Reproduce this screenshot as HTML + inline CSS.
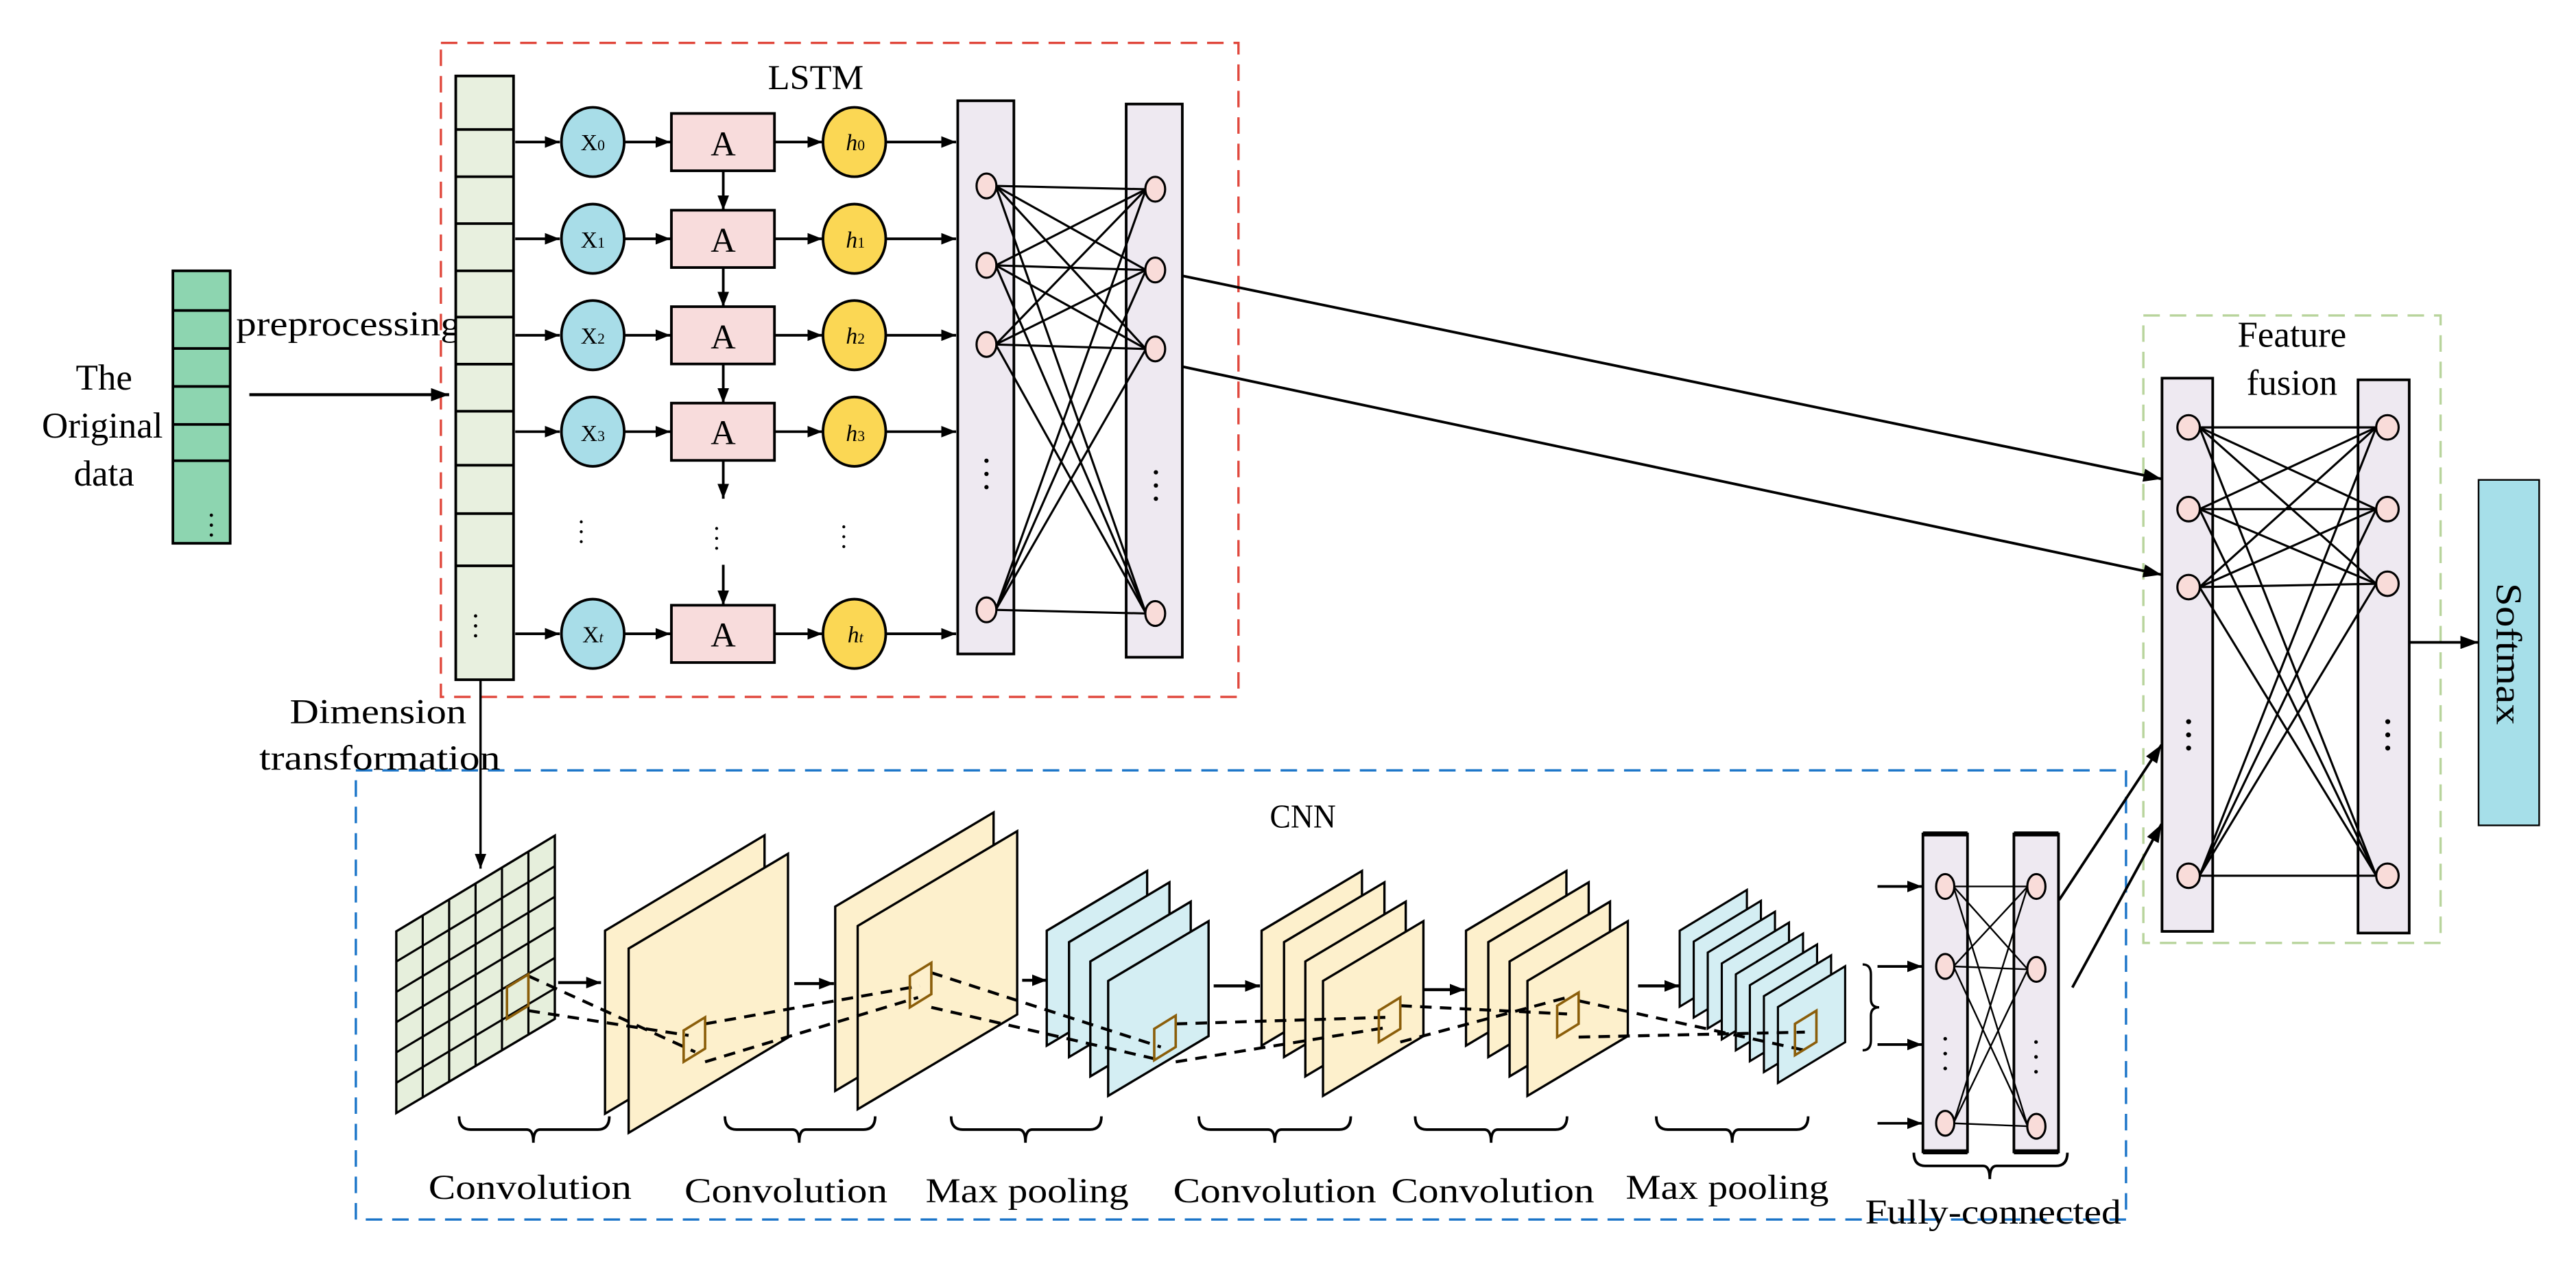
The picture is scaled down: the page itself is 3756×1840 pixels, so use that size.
<!DOCTYPE html>
<html><head><meta charset="utf-8"><style>html,body{margin:0;padding:0;background:#fff}svg{display:block}</style></head>
<body>
<svg width="3756" height="1840" viewBox="0 0 1560 764.2" preserveAspectRatio="none" xmlns="http://www.w3.org/2000/svg" font-family="'Liberation Serif', serif">
<defs>
<marker id="ar" markerUnits="userSpaceOnUse" markerWidth="12" markerHeight="8" refX="11" refY="4" orient="auto"><path d="M0,0 L11,4 L0,8 z" fill="#000"/></marker>
<marker id="ars" markerUnits="userSpaceOnUse" markerWidth="9" markerHeight="7" refX="9" refY="3.5" orient="auto"><path d="M0,0 L9,3.5 L0,7 z" fill="#000"/></marker>
</defs>

<!-- Boxes -->
<rect x="267" y="26" width="483" height="396" fill="none" stroke="#e0473c" stroke-width="1.4" stroke-dasharray="10 6"/>
<rect x="215.5" y="466.5" width="1072" height="272" fill="none" stroke="#1a74c8" stroke-width="1.4" stroke-dasharray="10 6"/>
<rect x="1298" y="191" width="180" height="380" fill="none" stroke="#b8d49c" stroke-width="1.4" stroke-dasharray="10 6"/>

<!-- Original data -->
<rect x="104.7" y="164" width="34.7" height="165" fill="#8dd5b0" stroke="#000" stroke-width="1.6"/>
<g stroke="#000" stroke-width="1.6">
<line x1="104.7" y1="188" x2="139.4" y2="188"/><line x1="104.7" y1="211" x2="139.4" y2="211"/><line x1="104.7" y1="234" x2="139.4" y2="234"/><line x1="104.7" y1="257" x2="139.4" y2="257"/><line x1="104.7" y1="279" x2="139.4" y2="279"/>
</g>
<g fill="#000"><circle cx="128" cy="312" r="1"/><circle cx="128" cy="318" r="1"/><circle cx="128" cy="324" r="1"/></g>
<g font-size="22" text-anchor="middle"><text x="63" y="236">The</text><text x="62" y="265">Original</text><text x="63" y="294">data</text></g>
<text x="143" y="203" font-size="21" textLength="136" lengthAdjust="spacingAndGlyphs">preprocessing</text>
<line x1="151" y1="239" x2="272" y2="239" stroke="#000" stroke-width="1.8" marker-end="url(#ar)"/>

<!-- LSTM input column -->
<rect x="276" y="46" width="35" height="365.6" fill="#e8f0df" stroke="#000" stroke-width="1.6"/>
<g stroke="#000" stroke-width="1.6">
<line x1="276" y1="78.4" x2="311" y2="78.4"/><line x1="276" y1="107" x2="311" y2="107"/><line x1="276" y1="135.4" x2="311" y2="135.4"/><line x1="276" y1="164" x2="311" y2="164"/><line x1="276" y1="192" x2="311" y2="192"/><line x1="276" y1="220.5" x2="311" y2="220.5"/><line x1="276" y1="249" x2="311" y2="249"/><line x1="276" y1="281.7" x2="311" y2="281.7"/><line x1="276" y1="311" x2="311" y2="311"/><line x1="276" y1="342.6" x2="311" y2="342.6"/>
</g>
<g fill="#000"><circle cx="288" cy="373" r="1"/><circle cx="288" cy="379" r="1"/><circle cx="288" cy="385" r="1"/></g>
<text x="494" y="54" font-size="21" text-anchor="middle" textLength="58" lengthAdjust="spacingAndGlyphs">LSTM</text>

<!-- LSTM rows -->
<g stroke="#000" stroke-width="1.6">
<line x1="312" y1="86" x2="339" y2="86" marker-end="url(#ars)"/><line x1="378" y1="86" x2="406" y2="86" marker-end="url(#ars)"/><line x1="469" y1="86" x2="498" y2="86" marker-end="url(#ars)"/><line x1="536" y1="86" x2="579" y2="86" marker-end="url(#ars)"/>
<line x1="312" y1="144.6" x2="339" y2="144.6" marker-end="url(#ars)"/><line x1="378" y1="144.6" x2="406" y2="144.6" marker-end="url(#ars)"/><line x1="469" y1="144.6" x2="498" y2="144.6" marker-end="url(#ars)"/><line x1="536" y1="144.6" x2="579" y2="144.6" marker-end="url(#ars)"/>
<line x1="312" y1="203" x2="339" y2="203" marker-end="url(#ars)"/><line x1="378" y1="203" x2="406" y2="203" marker-end="url(#ars)"/><line x1="469" y1="203" x2="498" y2="203" marker-end="url(#ars)"/><line x1="536" y1="203" x2="579" y2="203" marker-end="url(#ars)"/>
<line x1="312" y1="261.4" x2="339" y2="261.4" marker-end="url(#ars)"/><line x1="378" y1="261.4" x2="406" y2="261.4" marker-end="url(#ars)"/><line x1="469" y1="261.4" x2="498" y2="261.4" marker-end="url(#ars)"/><line x1="536" y1="261.4" x2="579" y2="261.4" marker-end="url(#ars)"/>
<line x1="312" y1="383.8" x2="339" y2="383.8" marker-end="url(#ars)"/><line x1="378" y1="383.8" x2="406" y2="383.8" marker-end="url(#ars)"/><line x1="469" y1="383.8" x2="498" y2="383.8" marker-end="url(#ars)"/><line x1="536" y1="383.8" x2="579" y2="383.8" marker-end="url(#ars)"/>
<line x1="438" y1="103.4" x2="438" y2="127.3" marker-end="url(#ars)"/>
<line x1="438" y1="162" x2="438" y2="185.7" marker-end="url(#ars)"/>
<line x1="438" y1="220.3" x2="438" y2="244.1" marker-end="url(#ars)"/>
<line x1="438" y1="278.7" x2="438" y2="302" marker-end="url(#ars)"/>
<line x1="438" y1="342" x2="438" y2="366.5" marker-end="url(#ars)"/>
</g>
<g stroke="#000" stroke-width="1.6">
<ellipse cx="359" cy="86" rx="19" ry="21" fill="#a8dde8"/><ellipse cx="359" cy="144.6" rx="19" ry="21" fill="#a8dde8"/><ellipse cx="359" cy="203" rx="19" ry="21" fill="#a8dde8"/><ellipse cx="359" cy="261.4" rx="19" ry="21" fill="#a8dde8"/><ellipse cx="359" cy="383.8" rx="19" ry="21" fill="#a8dde8"/>
<rect x="406.6" y="68.7" width="62.4" height="34.7" fill="#f8dcdc"/><rect x="406.6" y="127.3" width="62.4" height="34.7" fill="#f8dcdc"/><rect x="406.6" y="185.7" width="62.4" height="34.7" fill="#f8dcdc"/><rect x="406.6" y="244.1" width="62.4" height="34.7" fill="#f8dcdc"/><rect x="406.6" y="366.5" width="62.4" height="34.7" fill="#f8dcdc"/>
<ellipse cx="517.4" cy="86" rx="19" ry="21" fill="#fbd754"/><ellipse cx="517.4" cy="144.6" rx="19" ry="21" fill="#fbd754"/><ellipse cx="517.4" cy="203" rx="19" ry="21" fill="#fbd754"/><ellipse cx="517.4" cy="261.4" rx="19" ry="21" fill="#fbd754"/><ellipse cx="517.4" cy="383.8" rx="19" ry="21" fill="#fbd754"/>
</g>
<g font-size="14" text-anchor="middle">
<text x="359" y="91">X<tspan font-size="9">0</tspan></text><text x="359" y="150">X<tspan font-size="9">1</tspan></text><text x="359" y="208">X<tspan font-size="9">2</tspan></text><text x="359" y="267">X<tspan font-size="9">3</tspan></text><text x="359" y="389">X<tspan font-size="9" font-style="italic">t</tspan></text>
<text x="518" y="91" font-style="italic">h<tspan font-size="9" font-style="normal">0</tspan></text><text x="518" y="150" font-style="italic">h<tspan font-size="9" font-style="normal">1</tspan></text><text x="518" y="208" font-style="italic">h<tspan font-size="9" font-style="normal">2</tspan></text><text x="518" y="267" font-style="italic">h<tspan font-size="9" font-style="normal">3</tspan></text><text x="518" y="389" font-style="italic">h<tspan font-size="9">t</tspan></text>
</g>
<g font-size="21" text-anchor="middle"><text x="438" y="94">A</text><text x="438" y="152.5">A</text><text x="438" y="211">A</text><text x="438" y="269">A</text><text x="438" y="391.5">A</text></g>
<g fill="#000"><circle cx="352" cy="316" r="0.9"/><circle cx="352" cy="322" r="0.9"/><circle cx="352" cy="328" r="0.9"/>
<circle cx="434" cy="320" r="0.9"/><circle cx="434" cy="326" r="0.9"/><circle cx="434" cy="332" r="0.9"/>
<circle cx="511" cy="319" r="0.9"/><circle cx="511" cy="325" r="0.9"/><circle cx="511" cy="331" r="0.9"/></g>

<!-- LSTM dense layers -->
<rect x="580" y="61" width="34" height="335" fill="#eee9f1" stroke="#000" stroke-width="1.6"/>
<rect x="682" y="63" width="34" height="335" fill="#eee9f1" stroke="#000" stroke-width="1.6"/>
<g stroke="#000" stroke-width="1.3">
<line x1="603" y1="112.6" x2="694" y2="114.6"/><line x1="603" y1="112.6" x2="694" y2="163.5"/><line x1="603" y1="112.6" x2="694" y2="211.3"/><line x1="603" y1="112.6" x2="694" y2="371.5"/>
<line x1="603" y1="160.7" x2="694" y2="114.6"/><line x1="603" y1="160.7" x2="694" y2="163.5"/><line x1="603" y1="160.7" x2="694" y2="211.3"/><line x1="603" y1="160.7" x2="694" y2="371.5"/>
<line x1="603" y1="208.6" x2="694" y2="114.6"/><line x1="603" y1="208.6" x2="694" y2="163.5"/><line x1="603" y1="208.6" x2="694" y2="211.3"/><line x1="603" y1="208.6" x2="694" y2="371.5"/>
<line x1="603" y1="369.3" x2="694" y2="114.6"/><line x1="603" y1="369.3" x2="694" y2="163.5"/><line x1="603" y1="369.3" x2="694" y2="211.3"/><line x1="603" y1="369.3" x2="694" y2="371.5"/>
</g>
<g fill="#f9dcd9" stroke="#000" stroke-width="1.3">
<ellipse cx="597.4" cy="112.6" rx="6" ry="7.5"/><ellipse cx="597.4" cy="160.7" rx="6" ry="7.5"/><ellipse cx="597.4" cy="208.6" rx="6" ry="7.5"/><ellipse cx="597.4" cy="369.3" rx="6" ry="7.5"/>
<ellipse cx="699.6" cy="114.6" rx="6" ry="7.5"/><ellipse cx="699.6" cy="163.5" rx="6" ry="7.5"/><ellipse cx="699.6" cy="211.3" rx="6" ry="7.5"/><ellipse cx="699.6" cy="371.5" rx="6" ry="7.5"/>
</g>
<g fill="#000"><circle cx="597.4" cy="279" r="1.3"/><circle cx="597.4" cy="287" r="1.3"/><circle cx="597.4" cy="295" r="1.3"/>
<circle cx="700" cy="286" r="1.3"/><circle cx="700" cy="294" r="1.3"/><circle cx="700" cy="302" r="1.3"/></g>

<!-- to fusion -->
<g stroke="#000" stroke-width="1.6">
<line x1="716" y1="167" x2="1309" y2="290" marker-end="url(#ar)"/>
<line x1="716" y1="222" x2="1309" y2="348" marker-end="url(#ar)"/>
<line x1="1247" y1="545" x2="1309" y2="451" marker-end="url(#ar)"/>
<line x1="1255" y1="598" x2="1309" y2="499" marker-end="url(#ar)"/>
</g>

<!-- Dimension -->
<g font-size="21" text-anchor="middle"><text x="229" y="438" textLength="107" lengthAdjust="spacingAndGlyphs">Dimension</text><text x="230" y="466" textLength="146" lengthAdjust="spacingAndGlyphs">transformation</text></g>
<line x1="291" y1="412" x2="291" y2="526" stroke="#000" stroke-width="1.4" marker-end="url(#ars)"/>
<text x="789" y="501" font-size="20" text-anchor="middle" textLength="40" lengthAdjust="spacingAndGlyphs">CNN</text>

<!-- Grid -->
<polygon points="240,564 336,506 336,617 240,674" fill="#e6efdc" stroke="#000" stroke-width="1.4"/>
<g stroke="#000" stroke-width="1.3">
<line x1="256" y1="554.3" x2="256" y2="664.7"/><line x1="272" y1="544.7" x2="272" y2="655"/><line x1="288" y1="535" x2="288" y2="645.4"/><line x1="304" y1="525.3" x2="304" y2="635.7"/><line x1="320" y1="515.7" x2="320" y2="626"/>
<line x1="240" y1="582.3" x2="336" y2="524.5"/><line x1="240" y1="600.7" x2="336" y2="543"/><line x1="240" y1="619" x2="336" y2="561.5"/><line x1="240" y1="637.3" x2="336" y2="580"/><line x1="240" y1="655.7" x2="336" y2="598.5"/>
</g>

<!-- Conv planes -->
<g stroke="#000" stroke-width="1.4" fill="#fdf0cc">
<polygon points="366.4,563.6 463,505.8 463,616.6 366.4,674.4"/>
<polygon points="380.7,574.4 477.2,517 477.2,628.3 380.7,686"/>
<polygon points="505.8,549 601.7,492 601.7,603.6 505.8,660.6"/>
<polygon points="519.4,560.7 616,503.3 616,614.3 519.4,671.7"/>
</g>
<g stroke="#000" stroke-width="1.4" fill="#d4eef3">
<polygon points="633.9,563.6 694.7,527.4 694.7,597 633.9,633.2"/>
<polygon points="647.4,570.5 708.2,534.3 708.2,603.9 647.4,640.1"/>
<polygon points="660.3,582.2 721.1,546 721.1,615.6 660.3,651.8"/>
<polygon points="671.1,594 731.9,557.8 731.9,627.4 671.1,663.6"/>
</g>
<g stroke="#000" stroke-width="1.4" fill="#fdf0cc">
<polygon points="764,563.6 824.8,527.4 824.8,597 764,633.2"/>
<polygon points="777.6,570.5 838.4,534.3 838.4,603.9 777.6,640.1"/>
<polygon points="790.5,582.2 851.3,546 851.3,615.6 790.5,651.8"/>
<polygon points="801.2,594 862,557.8 862,627.4 801.2,663.6"/>
<polygon points="887.8,563.6 948.6,527.4 948.6,597 887.8,633.2"/>
<polygon points="901.3,570.5 962.1,534.3 962.1,603.9 901.3,640.1"/>
<polygon points="914.2,582.2 975,546 975,615.6 914.2,651.8"/>
<polygon points="925,594 985.8,557.8 985.8,627.4 925,663.6"/>
</g>
<g stroke="#000" stroke-width="1.3" fill="#d4eef3">
<polygon points="1017.2,563.6 1057.9,538.9 1057.9,584.9 1017.2,609.6"/>
<polygon points="1025.7,570.2 1066.4,545.5 1066.4,591.5 1025.7,616.2"/>
<polygon points="1034.2,576.8 1074.9,552.1 1074.9,598.1 1034.2,622.8"/>
<polygon points="1042.7,583.4 1083.4,558.7 1083.4,604.7 1042.7,629.4"/>
<polygon points="1051.2,590 1091.9,565.3 1091.9,611.3 1051.2,636"/>
<polygon points="1059.7,596.6 1100.4,571.9 1100.4,617.9 1059.7,642.6"/>
<polygon points="1068.2,603.2 1108.9,578.5 1108.9,624.5 1068.2,649.2"/>
<polygon points="1076.7,609.8 1117.4,585.1 1117.4,631.1 1076.7,655.8"/>
</g>

<!-- CNN arrows -->
<g stroke="#000" stroke-width="1.8">
<line x1="338" y1="595" x2="364" y2="595" marker-end="url(#ars)"/>
<line x1="481" y1="595.6" x2="505" y2="595.6" marker-end="url(#ars)"/>
<line x1="619" y1="593.6" x2="634" y2="593.6" marker-end="url(#ars)"/>
<line x1="735" y1="597" x2="763" y2="597" marker-end="url(#ars)"/>
<line x1="862" y1="599.3" x2="887" y2="599.3" marker-end="url(#ars)"/>
<line x1="992" y1="597" x2="1017" y2="597" marker-end="url(#ars)"/>
</g>

<!-- dashed receptive field lines -->
<g stroke="#000" stroke-width="1.8" stroke-dasharray="7 5" fill="none">
<line x1="320" y1="591" x2="421" y2="637"/><line x1="320" y1="612" x2="417" y2="627"/>
<line x1="427" y1="620" x2="557" y2="597"/><line x1="427" y1="643" x2="556" y2="604"/>
<line x1="564" y1="589" x2="703" y2="634"/><line x1="564" y1="610" x2="703" y2="642"/>
<line x1="712" y1="620" x2="841" y2="616"/><line x1="712" y1="643" x2="841" y2="622"/>
<line x1="848" y1="609" x2="949" y2="614"/><line x1="848" y1="631" x2="949" y2="604"/>
<line x1="956" y1="606" x2="1093" y2="636"/><line x1="956" y1="628" x2="1093" y2="625"/>
</g>
<g stroke="#8b5e0a" stroke-width="1.5" fill="none">
<polygon points="307,598 320,590 320,609 307,617"/>
<polygon points="414,624 427,616 427,635 414,643"/>
<polygon points="551,591 564,583 564,602 551,610"/>
<polygon points="699,623 712,615 712,634 699,642"/>
<polygon points="835,612 848,604 848,623 835,631"/>
<polygon points="943,609 956,601 956,620 943,628"/>
<polygon points="1087,620 1100,612 1100,631 1087,639"/>
</g>

<!-- right brace -->
<path d="M1128,584 q5,0 5,6 l0,15 q0,5 5,5 q-5,0 -5,5 l0,15 q0,6 -5,6" fill="none" stroke="#000" stroke-width="1.4"/>

<!-- under braces -->
<g fill="none" stroke="#000" stroke-width="1.6">
<path d="M278,676 q0,8 7,8 L319,684 q4,0 4,8 q0,-8 4,-8 L362,684 q7,0 7,-8"/>
<path d="M439,676 q0,8 7,8 L480,684 q4,0 4,8 q0,-8 4,-8 L523,684 q7,0 7,-8"/>
<path d="M576,676 q0,8 7,8 L617,684 q4,0 4,8 q0,-8 4,-8 L660,684 q7,0 7,-8"/>
<path d="M726,676 q0,8 7,8 L768,684 q4,0 4,8 q0,-8 4,-8 L811,684 q7,0 7,-8"/>
<path d="M857,676 q0,8 7,8 L899,684 q4,0 4,8 q0,-8 4,-8 L942,684 q7,0 7,-8"/>
<path d="M1003,676 q0,8 7,8 L1045,684 q4,0 4,8 q0,-8 4,-8 L1088,684 q7,0 7,-8"/>
<path d="M1159,698 q0,8 7,8 L1201,706 q4,0 4,8 q0,-8 4,-8 L1245,706 q7,0 7,-8"/>
</g>
<g font-size="21" text-anchor="middle">
<text x="321" y="726" textLength="123" lengthAdjust="spacingAndGlyphs">Convolution</text>
<text x="476" y="728" textLength="123" lengthAdjust="spacingAndGlyphs">Convolution</text>
<text x="622" y="728" textLength="123" lengthAdjust="spacingAndGlyphs">Max pooling</text>
<text x="772" y="728" textLength="123" lengthAdjust="spacingAndGlyphs">Convolution</text>
<text x="904" y="728" textLength="123" lengthAdjust="spacingAndGlyphs">Convolution</text>
<text x="1046" y="726" textLength="123" lengthAdjust="spacingAndGlyphs">Max pooling</text>
<text x="1207" y="741" textLength="155" lengthAdjust="spacingAndGlyphs">Fully-connected</text>
</g>

<!-- FC -->
<g stroke="#000" stroke-width="1.6">
<line x1="1137" y1="536.8" x2="1164" y2="536.8" marker-end="url(#ars)"/>
<line x1="1137" y1="585.2" x2="1164" y2="585.2" marker-end="url(#ars)"/>
<line x1="1137" y1="632.5" x2="1164" y2="632.5" marker-end="url(#ars)"/>
<line x1="1137" y1="680.2" x2="1164" y2="680.2" marker-end="url(#ars)"/>
</g>
<rect x="1164.5" y="505" width="27" height="192.5" fill="#eee9f1" stroke="#000" stroke-width="1.6"/>
<rect x="1219.6" y="505" width="27" height="192.5" fill="#eee9f1" stroke="#000" stroke-width="1.6"/>
<line x1="1164.5" y1="505" x2="1191.5" y2="505" stroke="#000" stroke-width="3"/><line x1="1219.6" y1="505" x2="1246.6" y2="505" stroke="#000" stroke-width="3"/>
<line x1="1164.5" y1="697.5" x2="1191.5" y2="697.5" stroke="#000" stroke-width="3"/><line x1="1219.6" y1="697.5" x2="1246.6" y2="697.5" stroke="#000" stroke-width="3"/>
<g stroke="#000" stroke-width="1">
<line x1="1183" y1="536.8" x2="1228" y2="536.8"/><line x1="1183" y1="536.8" x2="1228" y2="587"/><line x1="1183" y1="536.8" x2="1228" y2="682"/>
<line x1="1183" y1="585.2" x2="1228" y2="536.8"/><line x1="1183" y1="585.2" x2="1228" y2="587"/><line x1="1183" y1="585.2" x2="1228" y2="682"/>
<line x1="1183" y1="680.2" x2="1228" y2="536.8"/><line x1="1183" y1="680.2" x2="1228" y2="587"/><line x1="1183" y1="680.2" x2="1228" y2="682"/>
</g>
<g fill="#f9dcd9" stroke="#000" stroke-width="1.3">
<ellipse cx="1178" cy="536.8" rx="5.5" ry="7.5"/><ellipse cx="1178" cy="585.2" rx="5.5" ry="7.5"/><ellipse cx="1178" cy="680.2" rx="5.5" ry="7.5"/>
<ellipse cx="1233.2" cy="536.8" rx="5.5" ry="7.5"/><ellipse cx="1233.2" cy="587" rx="5.5" ry="7.5"/><ellipse cx="1233.2" cy="682" rx="5.5" ry="7.5"/>
</g>
<g fill="#000"><circle cx="1178" cy="629" r="1.1"/><circle cx="1178" cy="638" r="1.1"/><circle cx="1178" cy="647" r="1.1"/>
<circle cx="1233" cy="631" r="1.1"/><circle cx="1233" cy="640" r="1.1"/><circle cx="1233" cy="649" r="1.1"/></g>

<!-- Feature fusion -->
<g font-size="22" text-anchor="middle"><text x="1388" y="210">Feature</text><text x="1388" y="239">fusion</text></g>
<rect x="1309.3" y="229" width="30.7" height="335" fill="#eee9f1" stroke="#000" stroke-width="1.6"/>
<rect x="1428" y="230" width="31" height="335" fill="#eee9f1" stroke="#000" stroke-width="1.6"/>
<g stroke="#000" stroke-width="1.3">
<line x1="1332" y1="258.8" x2="1439" y2="258.8"/><line x1="1332" y1="258.8" x2="1439" y2="308.3"/><line x1="1332" y1="258.8" x2="1439" y2="353.5"/><line x1="1332" y1="258.8" x2="1439" y2="530.3"/>
<line x1="1332" y1="308.3" x2="1439" y2="258.8"/><line x1="1332" y1="308.3" x2="1439" y2="308.3"/><line x1="1332" y1="308.3" x2="1439" y2="353.5"/><line x1="1332" y1="308.3" x2="1439" y2="530.3"/>
<line x1="1332" y1="355.5" x2="1439" y2="258.8"/><line x1="1332" y1="355.5" x2="1439" y2="308.3"/><line x1="1332" y1="355.5" x2="1439" y2="353.5"/><line x1="1332" y1="355.5" x2="1439" y2="530.3"/>
<line x1="1332" y1="530.3" x2="1439" y2="258.8"/><line x1="1332" y1="530.3" x2="1439" y2="308.3"/><line x1="1332" y1="530.3" x2="1439" y2="353.5"/><line x1="1332" y1="530.3" x2="1439" y2="530.3"/>
</g>
<g fill="#f9dcd9" stroke="#000" stroke-width="1.3">
<ellipse cx="1325.4" cy="258.8" rx="6.8" ry="7.4"/><ellipse cx="1325.4" cy="308.3" rx="6.8" ry="7.4"/><ellipse cx="1325.4" cy="355.5" rx="6.8" ry="7.4"/><ellipse cx="1325.4" cy="530.3" rx="6.8" ry="7.4"/>
<ellipse cx="1445.8" cy="258.8" rx="6.8" ry="7.4"/><ellipse cx="1445.8" cy="308.3" rx="6.8" ry="7.4"/><ellipse cx="1445.8" cy="353.5" rx="6.8" ry="7.4"/><ellipse cx="1445.8" cy="530.3" rx="6.8" ry="7.4"/>
</g>
<g fill="#000"><circle cx="1325.4" cy="437" r="1.5"/><circle cx="1325.4" cy="445" r="1.5"/><circle cx="1325.4" cy="453" r="1.5"/>
<circle cx="1446" cy="437" r="1.5"/><circle cx="1446" cy="445" r="1.5"/><circle cx="1446" cy="453" r="1.5"/></g>
<line x1="1459" y1="389" x2="1501" y2="389" stroke="#000" stroke-width="1.6" marker-end="url(#ar)"/>
<rect x="1501" y="290.6" width="36.7" height="209.2" fill="#a6dfe9" stroke="#000" stroke-width="1"/>
<text transform="translate(1512,396) rotate(90)" font-size="22" text-anchor="middle" textLength="86" lengthAdjust="spacingAndGlyphs">Softmax</text>
</svg>
</body></html>
